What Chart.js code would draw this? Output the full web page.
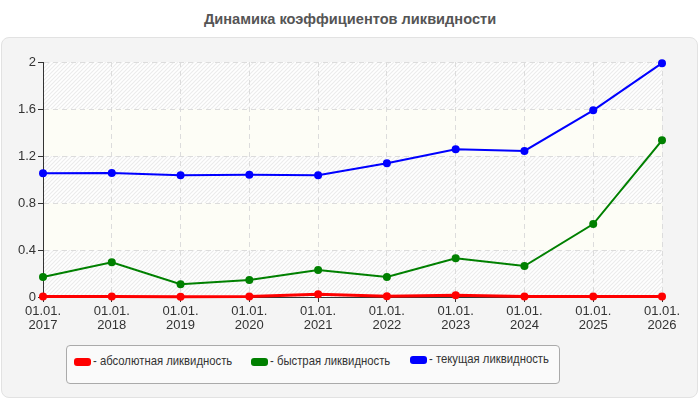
<!DOCTYPE html>
<html>
<head>
<meta charset="utf-8">
<script src="https://cdn.jsdelivr.net/npm/chart.js@4/dist/chart.umd.min.js"></script>
<style>
  html, body { margin:0; padding:0; background:#fff; }
  body { width:700px; height:400px; position:relative; overflow:hidden; font-family:"Liberation Sans", Arial, sans-serif; }
  #title { position:absolute; left:0; top:11px; width:700px; text-align:center; font-weight:bold; font-size:14.6px; color:#555; }
  #panel { position:absolute; left:1px; top:37px; width:695px; height:359px; background:#f4f4f4; border:1px solid #e2e2e2; border-radius:8px; }
  #wrap { position:absolute; left:0; top:0; width:700px; height:400px; }
  #legend { position:absolute; left:66px; top:345px; width:494px; height:39px; background:#fafafa; border:1px solid #aaa; border-radius:4px; box-sizing:border-box; }
  .item { position:absolute; font-size:13px; color:#333; white-space:nowrap; }
  .sw { position:absolute; left:0; top:6px; width:15px; height:6px; border-radius:2px; }
  .tx { position:absolute; left:18px; top:0; display:inline-block; transform:scaleX(0.87); transform-origin:0 0; }
</style>
</head>
<body>
<div id="title">Динамика коэффициентов ликвидности</div>
<div id="panel"></div>
<div id="wrap"><canvas id="c" width="700" height="400"></canvas></div>
<div id="legend"></div>
<script>
const categories = ["01.01.|2017","01.01.|2018","01.01.|2019","01.01.|2020","01.01.|2021","01.01.|2022","01.01.|2023","01.01.|2024","01.01.|2025","01.01.|2026"];
const seriesNames = ["- абсолютная ликвидность", "- быстрая ликвидность", "- текущая ликвидность"];
const absoluteLiq = [0.004, 0.004, 0.003, 0.004, 0.023, 0.006, 0.014, 0.004, 0.004, 0.004];
const quickLiq    = [0.17, 0.295, 0.108, 0.145, 0.23, 0.17, 0.329, 0.264, 0.621, 1.333];
const currentLiq  = [1.053, 1.055, 1.036, 1.04, 1.036, 1.138, 1.257, 1.243, 1.589, 1.99];
const seriesColors = ["#ff0000", "#008000", "#0000ff"];
const yTicks = [0, 0.4, 0.8, 1.2, 1.6, 2];

const pat = (function(){
  const c = document.createElement('canvas'); c.width = 4; c.height = 4;
  const g = c.getContext('2d');
  g.fillStyle = '#ffffff'; g.fillRect(0,0,4,4);
  g.strokeStyle = '#ececec'; g.lineWidth = 1.2;
  g.beginPath(); g.moveTo(-1,5); g.lineTo(5,-1); g.stroke();
  g.beginPath(); g.moveTo(-1,1); g.lineTo(1,-1); g.stroke();
  g.beginPath(); g.moveTo(3,5); g.lineTo(5,3); g.stroke();
  return c;
})();

const bandPlugin = {
  id: 'bands',
  beforeDraw(chart) {
    const {ctx, chartArea:a, scales:{y}} = chart;
    const p = ctx.createPattern(pat, 'repeat');
    for (let i = 0; i < yTicks.length - 1; i++) {
      const y0 = y.getPixelForValue(yTicks[i]);
      const y1 = y.getPixelForValue(yTicks[i+1]);
      ctx.fillStyle = (i % 2 === 0) ? p : '#fdfdf6';
      ctx.fillRect(a.left, y1, a.right - a.left, y0 - y1);
    }
  }
};

const values = [absoluteLiq, quickLiq, currentLiq];
const datasets = values.map((v, i) => ({
  label: seriesNames[i],
  data: v,
  borderColor: seriesColors[i],
  backgroundColor: seriesColors[i],
  borderWidth: i === 0 ? 3 : 2,
  pointRadius: 4,
  pointHoverRadius: 4,
  pointBorderWidth: 0,
  tension: 0,
  clip: false,
  order: 2 - i
}));

new Chart(document.getElementById('c'), {
  type: 'line',
  data: { labels: categories.map(s => s.split('|')), datasets },
  plugins: [bandPlugin],
  options: {
    responsive: false,
    animation: false,
    events: [],
    layout: { padding: { left: 0, right: 38, top: 62, bottom: 62 } },
    plugins: { legend: { display: false }, title: { display: false }, tooltip: { enabled: false } },
    scales: {
      x: {
        offset: false,
        afterFit(s) { s.height = 41; },
        grid: { color: '#dcdcdc', tickColor: '#333', tickLength: 5, tickBorderDash: [], drawTicks: true },
        border: { display: true, color: '#333', width: 1, dash: [5, 4] },
        ticks: { color: '#333', font: { family: 'Liberation Sans, Arial', size: 13, lineHeight: 1.1 }, maxRotation: 0, autoSkip: false, padding: 2 }
      },
      y: {
        min: 0, max: 2,
        afterFit(s) { s.width = 43; },
        afterBuildTicks(s) { s.ticks = yTicks.map(v => ({ value: v })); },
        grid: { color: '#dcdcdc', tickColor: '#333', tickLength: 5, tickBorderDash: [] },
        border: { display: true, color: '#333', width: 1, dash: [5, 4] },
        ticks: { color: '#333', font: { family: 'Liberation Sans, Arial', size: 13 }, padding: 2, callback: v => String(v) }
      }
    }
  }
});

const lg = document.getElementById('legend');
const pos = [[8, 7], [185, 7], [344, 5]];
seriesNames.forEach((n, i) => {
  const d = document.createElement('div');
  d.className = 'item';
  d.style.left = pos[i][0] + 'px';
  d.style.top = pos[i][1] + 'px';
  d.innerHTML = '<span class="sw" style="background:' + seriesColors[i] + ';box-shadow:0 0 0 1px ' + seriesColors[i] + '"></span><span class="tx">' + n + '</span>';
  lg.appendChild(d);
});
</script>
</body>
</html>
